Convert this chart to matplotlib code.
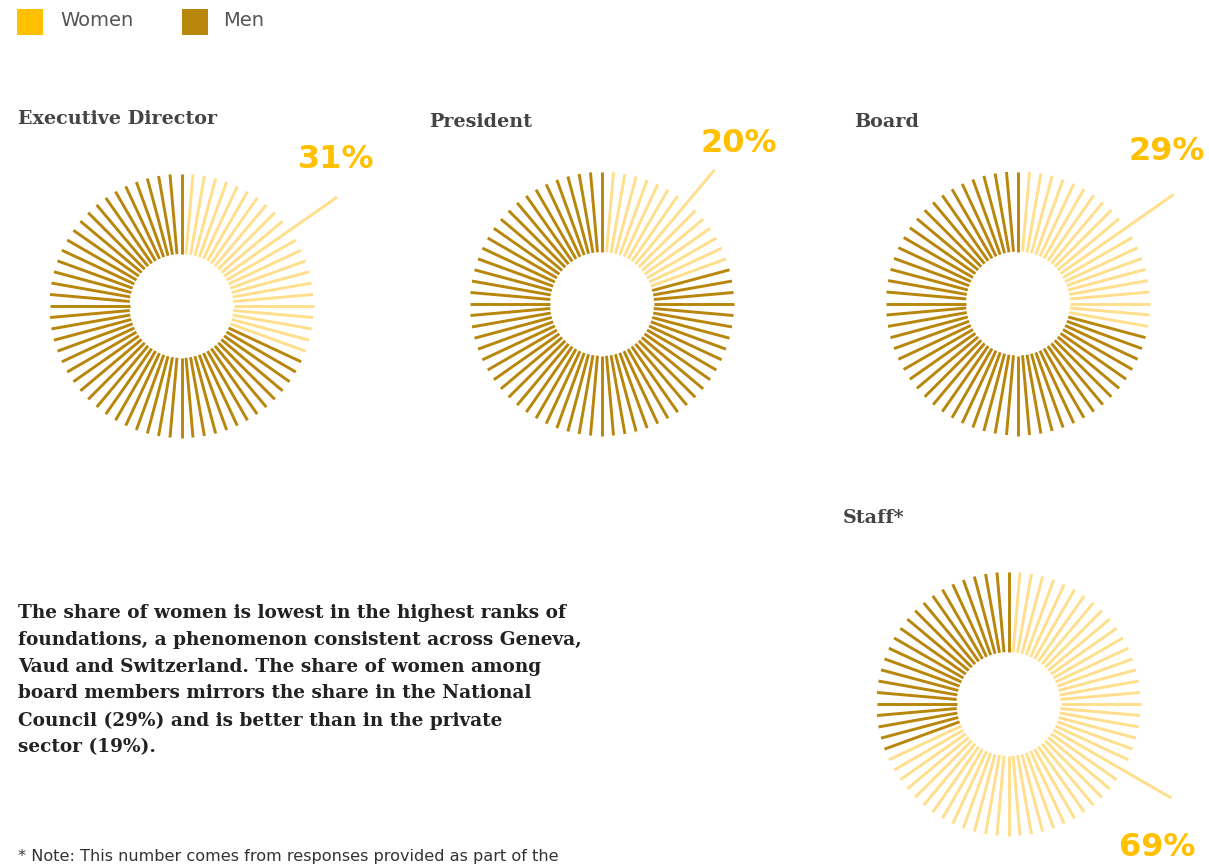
import matplotlib
matplotlib.use("Agg")
import matplotlib.pyplot as plt
import numpy as np

# share of women per role (%)
roles = ["Executive Director", "President", "Board", "Staff*"]
women_pct = [31, 20, 29, 69]
labels = ["31%", "20%", "29%", "69%"]
leader_deg = [55, 40, 55, 120]   # angle of the spoke that points to the label

n_spokes = 72
r_in, r_out = 52, 132

# layout (pixels)
centers = [(181.5, 306), (602, 304), (1018, 303.5), (1008.5, 704)]
leader_len = [190, 175, 190, 188]
title_pos = [(18, 119), (429, 122), (854, 122), (843, 518)]
label_pos = [(336, 160), (739, 144), (1167, 152), (1157, 847)]

c_women = "#FFC000"
c_women_light = "#FFDF8C"
c_men = "#B8860B"

fig = plt.figure(figsize=(12.09, 8.65), dpi=100)
ax = fig.add_axes([0, 0, 1, 1])
ax.set_xlim(0, 1209)
ax.set_ylim(865, 0)
ax.axis("off")

for k in range(len(roles)):
    cx, cy = centers[k]
    n_w = int(women_pct[k] / 100 * n_spokes)
    for i in range(n_spokes):
        a = np.radians(i * 360 / n_spokes)
        col = c_women_light if 1 <= i <= n_w else c_men
        ro = r_out
        if i * 360 / n_spokes == leader_deg[k]:
            ro = leader_len[k]
        ax.plot([cx + r_in * np.sin(a), cx + ro * np.sin(a)],
                [cy - r_in * np.cos(a), cy - ro * np.cos(a)],
                color=col, lw=2.1, solid_capstyle="butt")
    tx, ty = title_pos[k]
    ax.text(tx, ty, roles[k], family="DejaVu Serif", weight="bold",
            fontsize=13.8, color="#444444", va="center", ha="left")
    lx, ly = label_pos[k]
    ax.text(lx, ly, labels[k], family="DejaVu Sans", weight="bold",
            fontsize=23, color=c_women, va="center", ha="center")

# legend
ax.add_patch(plt.Rectangle((17, 9), 26, 26, color=c_women, lw=0))
ax.text(60, 21, "Women", fontsize=14, color="#555555", va="center", family="DejaVu Sans")
ax.add_patch(plt.Rectangle((182, 9), 26, 26, color=c_men, lw=0))
ax.text(223, 21, "Men", fontsize=14, color="#555555", va="center", family="DejaVu Sans")

para = ("The share of women is lowest in the highest ranks of\n"
        "foundations, a phenomenon consistent across Geneva,\n"
        "Vaud and Switzerland. The share of women among\n"
        "board members mirrors the share in the National\n"
        "Council (29%) and is better than in the private\n"
        "sector (19%).")
ax.text(18, 604, para, family="DejaVu Serif", fontsize=13.3, color="#222222",
        va="top", ha="left", linespacing=1.63, weight="semibold")

ax.text(18, 856, "* Note: This number comes from responses provided as part of the",
        family="DejaVu Sans", fontsize=11.6, color="#333333", va="center")

fig.savefig("out.png", dpi=100)
